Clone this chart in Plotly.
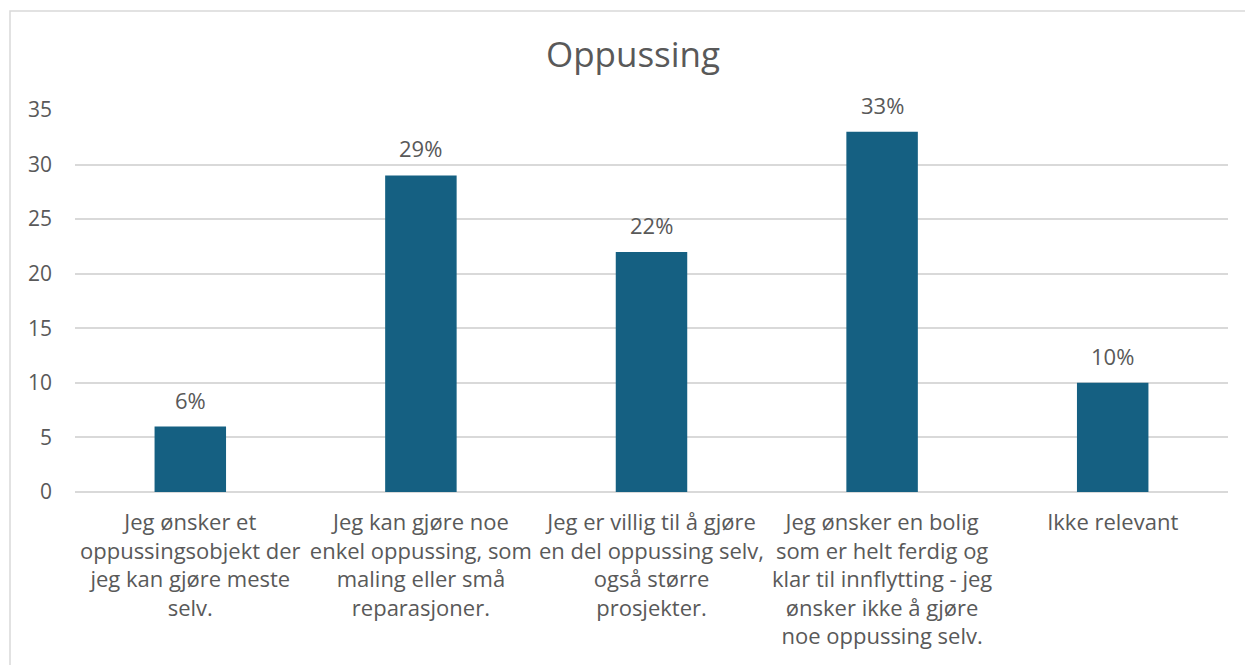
import plotly.graph_objects as go

categories = [
    "Jeg ønsker et<br>oppussingsobjekt der<br>jeg kan gjøre meste<br>selv.",
    "Jeg kan gjøre noe<br>enkel oppussing, som<br>maling eller små<br>reparasjoner.",
    "Jeg er villig til å gjøre<br>en del oppussing selv,<br>også større<br>prosjekter.",
    "Jeg ønsker en bolig<br>som er helt ferdig og<br>klar til innflytting - jeg<br>ønsker ikke å gjøre<br>noe oppussing selv.",
    "Ikke relevant",
]
values = [6, 29, 22, 33, 10]
labels = ["6%", "29%", "22%", "33%", "10%"]
y_ticks = [0, 5, 10, 15, 20, 25, 30, 35]

FONT = "Open Sans, Lato, sans-serif"
TEXT = "#595959"

fig = go.Figure()
fig.add_trace(go.Bar(x=categories, y=values, marker_color="#156082", marker_line_width=0))

for c, v, t in zip(categories, values, labels):
    fig.add_annotation(x=c, y=v, text=t, showarrow=False, yshift=27,
                       font=dict(family=FONT, size=22, color=TEXT))

W, H = 1245, 665
L, R, T, B = 75, 17, 110, 173
pw, ph = W - L - R, H - T - B
fig.add_shape(type="rect", xref="paper", yref="paper",
              x0=(10 - L) / pw, x1=(W + 20 - L) / pw,
              y0=-(H + 20 - (H - B)) / ph, y1=((H - B) - 11) / ph,
              line=dict(color="#d9d9d9", width=1.5), fillcolor="rgba(0,0,0,0)", layer="below")

fig.update_layout(
    width=W, height=H,
    margin=dict(l=L, r=R, t=T, b=B),
    paper_bgcolor="white", plot_bgcolor="white",
    bargap=0.69,
    showlegend=False,
    title=dict(text="Oppussing", x=633 / W, xref="container", xanchor="center",
               y=1 - 55 / H, yanchor="middle",
               font=dict(family=FONT, size=35, color=TEXT)),
    font=dict(family=FONT, color=TEXT),
)
fig.update_yaxes(range=[0, 35], tickvals=y_ticks, showgrid=True, gridcolor="#d9d9d9", gridwidth=1.5,
                 zeroline=True, zerolinecolor="#d9d9d9", zerolinewidth=1.5,
                 showline=False, ticks="", ticklabelstandoff=22,
                 tickfont=dict(family=FONT, size=21, color=TEXT))
fig.update_xaxes(showgrid=False, showline=False, ticks="", ticklabelstandoff=15,
                 tickangle=0, tickfont=dict(family=FONT, size=22, color=TEXT))

fig.write_html("out.html")
